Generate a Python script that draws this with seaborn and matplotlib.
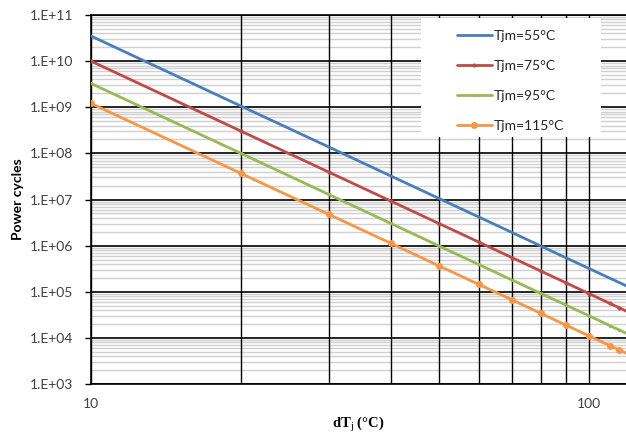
import numpy as np
import pandas as pd
import matplotlib
matplotlib.use("Agg")
import matplotlib.pyplot as plt
import matplotlib.ticker as mticker
from matplotlib.patches import Rectangle
import seaborn as sns

# ---- data ----
dTj = [10, 20, 30, 40, 50, 60, 70, 80, 90, 100, 110, 115, 120]
tjm55 = [3.5e10, 1.06e9, 1.38e8, 3.23e7, 1.05e7, 4.19e6, 1.93e6, 9.8e5, 5.4e5, 3.19e5, 1.97e5, 1.58e5, 1.27e5]
tjm75 = [1.0e10, 3.04e8, 3.94e7, 9.24e6, 3.0e6, 1.20e6, 5.5e5, 2.81e5, 1.55e5, 9.1e4, 5.6e4, 4.5e4, 3.6e4]
tjm95 = [3.28e9, 1.0e8, 1.29e7, 3.03e6, 9.8e5, 3.9e5, 1.8e5, 9.2e4, 5.1e4, 3.0e4, 1.85e4, 1.48e4, 1.19e4]
tjm115 = [1.21e9, 3.68e7, 4.77e6, 1.12e6, 3.63e5, 1.45e5, 6.7e4, 3.4e4, 1.88e4, 1.1e4, 6.8e3, 5.5e3, 4.4e3]
series_labels = ["Tjm=55°C", "Tjm=75°C", "Tjm=95°C", "Tjm=115°C"]
y_ticks = [1e3, 1e4, 1e5, 1e6, 1e7, 1e8, 1e9, 1e10, 1e11]
y_ticklabels = ["1.E+03", "1.E+04", "1.E+05", "1.E+06", "1.E+07", "1.E+08", "1.E+09", "1.E+10", "1.E+11"]
x_ticks = [10, 100]
x_ticklabels = ["10", "100"]

colors = ["#4A7EBB", "#BE4B48", "#98B954", "#F79646"]
markers = [None, "o", "o", "o"]
msizes = [0, 3, 2.5, 5]

sns.set_theme(style="white")
plt.rcParams["font.family"] = ["Lato", "DejaVu Sans"]
plt.rcParams["mathtext.fontset"] = "custom"
plt.rcParams["mathtext.rm"] = "Liberation Serif"

fig = plt.figure(figsize=(6.26, 4.34), dpi=100)
ax = fig.add_axes([91 / 626, 1 - 384 / 434, 1 - 91 / 626, (384 - 15) / 434])

for vals, lab, c, m, ms in zip([tjm55, tjm75, tjm95, tjm115], series_labels, colors, markers, msizes):
    df = pd.DataFrame({"dTj": dTj, "N": vals})
    sns.lineplot(data=df, x="dTj", y="N", ax=ax, color=c, linewidth=2.0,
                 marker=m, markersize=ms, markeredgewidth=0, label=lab, zorder=4,
                 clip_on=True)

ax.set_xscale("log")
ax.set_yscale("log")
ax.set_xlim(10, 118.6)
ax.set_ylim(1e3, 1e11)

ax.set_yticks(y_ticks)
ax.set_yticklabels(y_ticklabels)
ax.set_xticks(x_ticks)
ax.set_xticklabels(x_ticklabels)
ax.xaxis.set_minor_locator(mticker.LogLocator(base=10, subs=np.arange(2, 10)))
ax.yaxis.set_minor_locator(mticker.LogLocator(base=10, subs=np.arange(2, 10), numticks=100))
ax.xaxis.set_minor_formatter(mticker.NullFormatter())
ax.yaxis.set_minor_formatter(mticker.NullFormatter())

ax.set_axisbelow(True)
ax.grid(True, which="minor", axis="y", color="#d0d0d0", linewidth=1.0)
ax.grid(True, which="major", axis="y", color="black", linewidth=1.2)
ax.grid(True, which="both", axis="x", color="black", linewidth=1.0)
# draw vertical gridlines above the light horizontal ones
ax.xaxis.set_zorder(0.7)
ax.yaxis.set_zorder(0.5)

ax.tick_params(axis="y", which="major", length=4, width=1, color="black", direction="out",
               pad=9, labelsize=10, labelcolor="#404040", left=True)
ax.tick_params(axis="y", which="minor", length=0)
ax.tick_params(axis="x", which="both", length=0, pad=10, labelsize=10, labelcolor="#404040")

for s in ["left", "bottom", "top"]:
    ax.spines[s].set_color("black")
    ax.spines[s].set_linewidth(1.2)
ax.spines["right"].set_visible(False)

ax.set_ylabel("Power cycles", fontsize=10, fontweight="bold", color="black", labelpad=4)
ax.set_xlabel(r"dT$_{\rm j}$ (°C)", fontsize=10.5, fontweight="bold",
              family="Liberation Serif", color="black", labelpad=3)

# legend background box
ax.add_patch(Rectangle(((421 - 91) / 535, (384 - 137) / 369), 180 / 535, 119 / 369,
                       transform=ax.transAxes, facecolor="white", edgecolor="none", zorder=3))
leg = ax.legend(loc="upper left", bbox_to_anchor=((457 - 91) / 535, (384 - 30) / 369),
                frameon=False, fontsize=10, handlelength=2.5, handletextpad=0.15,
                labelspacing=1.3, borderpad=0, borderaxespad=0)
leg.set_zorder(5)
for t in leg.get_texts():
    t.set_color("#262626")

fig.savefig("out.png", dpi=100)
